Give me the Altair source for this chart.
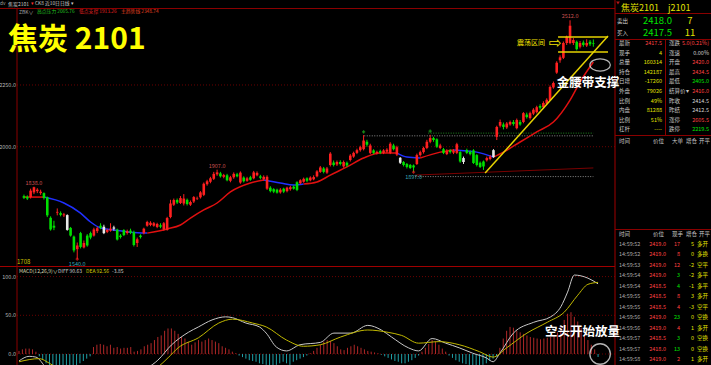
import altair as alt
import pandas as pd

FONT = "Noto Sans CJK SC"

# ---------------- candles (daily OHLC) ----------------
opens = [1800,1797,1796,1815,1820,1812,1812,1795,1712,1680,
         1733,1731,1722,1723,1671,1636,1585,1650,1592,1640,
         1650,1640,1658,1680,1676,1655,1660,1673,1664,1640,
         1662,1650,1660,1654,1610,1640,1650,1680,1683,1680,
         1675,1682,1665,1663,1715,1765,1784,1772,1770,1785,
         1765,1778,1790,1795,1805,1848,1858,1870,1888,1892,
         1878,1884,1862,1876,1888,1855,1875,1862,1876,1872,
         1884,1880,1868,1830,1834,1828,1826,1815,1830,1820,
         1828,1838,1856,1852,1858,1872,1864,1868,1880,1898,
         1912,1895,1926,1936,1928,1938,1920,1935,1946,1960,
         1975,1986,1990,2020,1975,1985,1974,1982,1975,1980,
         1975,2005,1968,1955,1938,1930,1926,1924,1930,1966,
         1978,1995,2020,2035,2030,1995,1990,1970,1985,1976,
         1975,1978,1954,1986,1980,1985,1966,1935,1940,1945,
         1950,1986,2040,2085,2090,2078,2090,2100,2075,2100,
         2100,2130,2116,2134,2140,2165,2160,2175,2189,2240,
         2300,2350,2360,2420,2420,2420,2425,2405,2422,2410,
         2425,2420]
closes = [1793,1790,1822,1836,1826,1818,1792,1722,1665,1672,
          1736,1724,1726,1663,1640,1580,1600,1594,1610,1600,
          1632,1665,1670,1672,1650,1663,1668,1668,1624,1634,
          1642,1658,1652,1602,1625,1634,1668,1695,1692,1690,
          1687,1676,1690,1711,1770,1784,1774,1792,1790,1768,
          1776,1796,1792,1815,1850,1860,1872,1890,1896,1880,
          1885,1864,1876,1890,1880,1895,1860,1872,1866,1896,
          1894,1874,1878,1878,1820,1818,1814,1826,1818,1834,
          1836,1830,1825,1864,1870,1862,1875,1877,1900,1916,
          1898,1912,1972,1926,1938,1930,1938,1924,1964,1975,
          1986,1998,2025,2008,2005,1975,1979,1976,1985,1988,
          2012,1990,1998,1935,1926,1918,1914,1916,1966,1978,
          1995,2020,2035,2027,2000,2005,1975,1982,1978,1984,
          2010,1940,1938,1975,1970,1934,1926,1918,1920,1954,
          1960,1958,2080,2100,2080,2094,2100,2092,2108,2090,
          2136,2120,2136,2150,2160,2158,2177,2190,2242,2258,
          2340,2362,2420,2445,2490,2432,2395,2420,2412,2420,
          2415,2417.5]
highs = [1806,1803,1830,1838,1832,1826,1815,1798,1718,1700,
         1750,1738,1732,1726,1675,1640,1612,1655,1620,1646,
         1656,1672,1676,1690,1684,1668,1690,1680,1668,1646,
         1666,1664,1668,1660,1632,1645,1672,1700,1698,1695,
         1692,1690,1695,1716,1785,1790,1790,1800,1808,1790,
         1782,1800,1798,1820,1855,1866,1878,1898,1907,1898,
         1890,1890,1882,1896,1894,1900,1880,1878,1882,1902,
         1900,1886,1884,1884,1840,1832,1830,1832,1834,1838,
         1842,1844,1860,1868,1875,1876,1880,1884,1905,1922,
         1918,1918,1978,1944,1944,1945,1944,1940,1970,1980,
         1992,2004,2047,2028,2012,1990,1984,1988,1990,1994,
         2018,2012,2004,1958,1942,1934,1930,1928,1972,1984,
         2000,2028,2048,2040,2034,2012,1995,1990,1990,1990,
         2016,1982,1960,1992,1985,1990,1970,1940,1944,1960,
         1966,1990,2085,2110,2098,2100,2106,2108,2114,2108,
         2140,2138,2142,2156,2166,2172,2184,2196,2248,2264,
         2346,2370,2426,2450,2512,2440,2430,2428,2430,2435,
         2432,2434.5]
lows = [1788,1784,1790,1808,1812,1805,1786,1715,1660,1662,
        1722,1718,1715,1660,1636,1572,1545,1588,1588,1595,
        1625,1636,1650,1666,1646,1650,1656,1660,1620,1628,
        1638,1644,1646,1596,1594,1628,1645,1676,1678,1676,
        1670,1670,1660,1660,1710,1760,1768,1768,1762,1762,
        1760,1772,1784,1790,1800,1842,1852,1865,1882,1875,
        1872,1860,1856,1870,1876,1850,1855,1858,1862,1868,
        1880,1868,1862,1825,1815,1812,1810,1810,1812,1815,
        1822,1826,1820,1848,1854,1856,1860,1864,1876,1894,
        1892,1890,1920,1920,1922,1924,1915,1918,1940,1955,
        1970,1980,1985,2000,1970,1970,1968,1970,1970,1975,
        1970,1985,1962,1930,1920,1912,1910,1897,1926,1960,
        1972,1990,2014,2020,1995,1990,1970,1966,1972,1970,
        1970,1935,1930,1970,1965,1930,1920,1914,1906,1940,
        1945,1955,2027,2078,2070,2072,2085,2085,2070,2085,
        2095,2114,2110,2128,2135,2150,2155,2170,2185,2235,
        2295,2340,2355,2412,2415,2412,2390,2398,2405,2404,
        2408,2405]
white_candles = [13, 24, 27, 113, 132, 141]

# moving average line, coloured by direction
ma_idx = [0,6,12,17,20,23,27,32,37,43,47,50,54,58,62,68,72,77,81,84,88,92,97,
          102,107,112,115,119,125,129,136,141,144,149,154,159,164,167,171]
ma_val = [1796,1796,1772,1731,1695,1671,1663,1654,1650,1667,1683,1711,1744,1772,
          1817,1853,1865,1853,1845,1849,1857,1885,1918,1954,1974,1974,1958,1954,
          1978,1987,1978,1958,1978,2019,2060,2100,2189,2262,2343]
ma_breaks = [0, 6, 37, 72, 84, 112, 119, 129, 141, 171]
ma_colors = ["#e01010", "#2030ff", "#e01010", "#2030ff", "#e01010",
             "#2030ff", "#e01010", "#2030ff", "#e01010"]

# MACD(12,26,9)
macd_hist = [4,6,7,7,6,3,
             -3,-7,-12,-16,-18,-20,-22,-24,-22,-20,-18,-16,-12,-9,-6,-3,
             9,12,13,12,10,12,
             8,9,7,8,8,9,3,4,6,
             10,12,14,18,22,24,30,33,33,30,26,22,20,16,
             12,15,18,16,18,20,18,16,14,10,8,6,3,
             1,-2,
             -4,-6,-8,-9,-10,-12,-13,-14,-16,-15,-14,-12,-10,-12,-14,-10,-8,-6,-4,-2,
             1,4,8,12,16,18,17,14,10,
             6,5,8,10,12,10,8,6,4,
             3,2,1,-1,
             -3,-5,-7,-9,-10,-12,-12,-10,-8,-5,-2,
             3,8,13,18,16,12,7,3,
             -2,-5,-8,-10,-12,-13,-14,-15,-16,-15,-14,-12,-9,-6,-3,
             8,20,30,35,34,30,28,26,24,22,21,20,19,
             20,21,22,24,28,36,44,52,54,48,42,34,25,18,12,6,-3.85]
diff_idx = [0,3,5,8,12,16,20,24,28,32,36,38,41,45,50,53,57,61,63,67,71,73,76,79,83,
            89,93,98,103,107,110,115,118,122,126,130,134,138,140,142,146,152,157,160,
            162,164,168,171]
diff_val = [-9,-3,-4,-18,-38,-52,-50,-44,-38,-32,-24,-18,-8,11.6,28,35,44,48,47,40,35,
            27,9,4,12,15,27,27,37,31,22,8,4,20,14,8,1,-5,-10,1,27,41,48,61,80,102,98,90.63]
dea_idx = [0,6,9,12,16,20,24,28,32,36,41,44,47,53,59,63,69,73,79,84,89,95,103,109,113,
           118,124,130,136,140,144,150,156,161,165,168,171]
dea_val = [-10,-6,-12,-20,-32,-40,-43,-42,-38,-32,-17,-5,8,21,40,45,40,35,18,10,12,22,
           31,28,24,14,16,12,3,-4,8,27,41,54,76,90,92.56]

price_ticks = [2000, 2250]
macd_ticks = [0, 50, 100]

# right-hand quote panel
stat_l1 = ["最新", "现手", "总量", "持仓", "日增", "外盘", "比例", "内盘", "比例", "杠杆"]
stat_v1 = ["2417.5", "4", "160314", "142187", "-17260", "79026", "49%", "81288", "51%", "----"]
stat_c1 = ["#ff4040"] + ["#e0e000"] * 9
stat_l2 = ["涨跌", "涨速", "开盘", "最高", "最低", "结算价▾", "昨收", "昨结", "涨停", "跌停"]
stat_v2 = ["5.0(0.21%)", "0.00%", "2420.0", "2434.5", "2405.0", "2416.0", "2414.5",
           "2412.5", "2605.5", "2219.5"]
stat_c2 = ["#ff4040", "#d0d0d0", "#ff4040", "#ff4040", "#00e000", "#ff4040",
           "#d0d0d0", "#d0d0d0", "#ff4040", "#00e000"]

tr_time = ["14:59:52", "14:59:52", "14:59:53", "14:59:54", "14:59:54", "14:59:55",
           "14:59:55", "14:59:56", "14:59:56", "14:59:57", "14:59:57", "14:59:58"]
tr_price = ["2419.0", "2419.0", "2419.0", "2419.0", "2418.5", "2418.5", "2418.5",
            "2419.0", "2419.0", "2418.5", "2418.0", "2419.0"]
tr_vol = ["17", "8", "12", "3", "4", "8", "4", "23", "4", "3", "13", "2"]
tr_vcol = ["#ff4040", "#ff4040", "#ff4040", "#00e000", "#00e000", "#ff4040",
           "#ff4040", "#00e000", "#ff4040", "#00e000", "#00e000", "#ff4040"]
tr_oi = ["5", "0", "-2", "-2", "-1", "3", "-3", "0", "1", "0", "0", "1"]
tr_kind = ["多开", "多换", "空平", "多平", "多平", "多开", "空平", "空换", "多开", "空换", "空换", "多开"]

# ---------------- tables ----------------
N = len(closes)
cols = []
for k in range(N):
    if k in white_candles:
        cols.append("#e8e8e8")
    elif closes[k] >= opens[k]:
        cols.append("#ff2020")
    else:
        cols.append("#00e000")
candles = pd.DataFrame({"i": list(range(N)), "o": opens, "c": closes,
                        "h": highs, "l": lows, "col": cols})

ma_rows = []
for s in range(len(ma_breaks) - 1):
    a, b = ma_breaks[s], ma_breaks[s + 1]
    for k, v in zip(ma_idx, ma_val):
        if a <= k <= b:
            ma_rows.append({"i": k, "v": v, "seg": s, "col": ma_colors[s]})
ma_df = pd.DataFrame(ma_rows)

hist_df = pd.DataFrame({"i": list(range(N)), "v": macd_hist,
                        "col": ["#b02828" if v >= 0 else "#1fa0a8" for v in macd_hist]})
diff_df = pd.DataFrame({"i": diff_idx, "v": diff_val})
dea_df = pd.DataFrame({"i": dea_idx, "v": dea_val})

one = pd.DataFrame({"k": [0]})

# ---------------- scales ----------------
xs = alt.Scale(domain=[-0.59, 176.0], range=[17, 615], zero=False, nice=False)
ys = alt.Scale(domain=[1512.8, 2557.7], range=[267, 9], zero=False, nice=False)
ms = alt.Scale(domain=[-14.2, 112.4], range=[365, 267], zero=False, nice=False)


def PX(f):
    return alt.X(f, type="quantitative", scale=xs, axis=None)


def PY(f, s=ys):
    return alt.Y(f, type="quantitative", scale=s, axis=None)


def label(text, x, y, size, color, align="left", weight="normal", font=FONT):
    return alt.Chart(one).mark_text(
        text=text, font=font, fontSize=size, color=color, align=align,
        baseline="middle", fontWeight=weight
    ).encode(x=alt.value(x), y=alt.value(y))


def hline(x1, x2, y, color="#8a0000", w=1):
    return alt.Chart(one).mark_rule(color=color, strokeWidth=w).encode(
        x=alt.value(x1), x2=alt.value(x2), y=alt.value(y))


def vline(x, y1, y2, color="#8a0000", w=1):
    return alt.Chart(one).mark_rule(color=color, strokeWidth=w).encode(
        x=alt.value(x), y=alt.value(y1), y2=alt.value(y2))


# ---------------- price panel ----------------
grid_p = alt.Chart(pd.DataFrame({"v": price_ticks})).mark_rule(
    color="#6a0000", strokeDash=[1, 2]).encode(
    x=alt.value(17), x2=alt.value(615), y=PY("v"))
ticks_p = alt.Chart(pd.DataFrame({"v": price_ticks})).mark_text(
    align="right", baseline="middle", fontSize=5.5, color="#b4b4b4", font=FONT).encode(
    x=alt.value(16), y=PY("v"), text=alt.Text("v:Q", format=".1f"))

levels = pd.DataFrame({"x1": [102.2, 121.4, 117.5], "x2": [171, 171, 171],
                       "p": [2044, 2055, 1879],
                       "col": ["#8c8c8c", "#1f8a1f", "#8c8c8c"]})
lev = alt.Chart(levels).mark_rule(strokeDash=[1, 1.5], strokeWidth=1).encode(
    x=PX("x1"), x2="x2:Q", y=PY("p"), color=alt.Color("col:N", scale=None))
slope = alt.Chart(pd.DataFrame({"x1": [117.5], "x2": [171], "p1": [1885], "p2": [1914]})).mark_rule(
    color="#7a0000", strokeWidth=1).encode(x=PX("x1"), x2="x2:Q", y=PY("p1"), y2="p2:Q")

wicks = alt.Chart(candles).mark_rule(strokeWidth=1).encode(
    x=PX("i"), y=PY("l"), y2="h:Q", color=alt.Color("col:N", scale=None))
bodies = alt.Chart(candles).mark_bar(size=2.6).encode(
    x=PX("i"), y=PY("o"), y2="c:Q", color=alt.Color("col:N", scale=None))
ma_line = alt.Chart(ma_df).mark_line(strokeWidth=1.5, interpolate="monotone").encode(
    x=PX("i"), y=PY("v"), detail="seg:N", order="i:Q", color=alt.Color("col:N", scale=None))

hi_lab = alt.Chart(pd.DataFrame({"i": [3, 58, 164], "p": [1838, 1907, 2512],
                                 "t": ["1838.0", "1907.0", "2512.0"]})).mark_text(
    fontSize=5.5, color="#c85050", font=FONT, baseline="bottom", dy=-1).encode(
    x=PX("i"), y=PY("p"), text="t:N")
lo_lab = alt.Chart(pd.DataFrame({"i": [16, 117], "p": [1545, 1897],
                                 "t": ["1540.0", "1897.0"]})).mark_text(
    fontSize=5.5, color="#3aa8b8", font=FONT, baseline="top", dy=3).encode(
    x=PX("i"), y=PY("p"), text="t:N")
lo_mark = alt.Chart(pd.DataFrame({"i": [16, 117], "p": [1545, 1897]})).mark_point(
    shape="cross", size=10, filled=True, color="#ff2020").encode(x=PX("i"), y=PY("p"))
hi_mark = alt.Chart(pd.DataFrame({"i": [102, 122], "p": [2060, 2063]})).mark_point(
    shape="cross", size=10, filled=True, color="#20c020").encode(x=PX("i"), y=PY("p"))

trend = alt.Chart(pd.DataFrame({"x1": [138.5], "x2": [175.4], "p1": [1893], "p2": [2448]})).mark_rule(
    color="#e6d200", strokeWidth=1.5).encode(x=PX("x1"), x2="x2:Q", y=PY("p1"), y2="p2:Q")
band = alt.Chart(pd.DataFrame({"x1": [160.4, 160.4], "x2": [175.4, 175.4], "p": [2444, 2384]})).mark_rule(
    color="#e6d200", strokeWidth=1.5).encode(x=PX("x1"), x2="x2:Q", y=PY("p"))

price_layer = alt.layer(grid_p, ticks_p, lev, slope, ma_line, wicks, bodies,
                        hi_lab, lo_lab, lo_mark, hi_mark, trend, band)

# ---------------- MACD panel ----------------
grid_m = alt.Chart(pd.DataFrame({"v": macd_ticks})).mark_rule(
    color="#6a0000", strokeDash=[1, 2]).encode(
    x=alt.value(17), x2=alt.value(615), y=PY("v", ms))
ticks_m = alt.Chart(pd.DataFrame({"v": macd_ticks})).mark_text(
    align="right", baseline="middle", fontSize=5.5, color="#b4b4b4", font=FONT).encode(
    x=alt.value(16), y=PY("v", ms), text=alt.Text("v:Q", format=".1f"))
hist = alt.Chart(hist_df).mark_rule(strokeWidth=1).encode(
    x=PX("i"), y=alt.Y("zero:Q", scale=ms, axis=None), y2="v:Q",
    color=alt.Color("col:N", scale=None)).transform_calculate(zero="0")
diff_line = alt.Chart(diff_df).mark_line(color="#c8c8c8", strokeWidth=1, interpolate="monotone").encode(
    x=PX("i"), y=PY("v", ms))
dea_line = alt.Chart(dea_df).mark_line(color="#c0b800", strokeWidth=1, interpolate="monotone").encode(
    x=PX("i"), y=PY("v", ms))
macd_circle = alt.Chart(pd.DataFrame({"i": [171.6], "v": [0]})).mark_point(
    shape="circle", size=420, filled=False, color="#ffffff", strokeWidth=1.3).encode(
    x=PX("i"), y=PY("v", ms))
macd_layer = alt.layer(grid_m, ticks_m, hist, diff_line, dea_line, macd_circle)

# ---------------- right panel tables ----------------
stats = pd.DataFrame({"r": list(range(10)), "l1": stat_l1, "v1": stat_v1, "c1": stat_c1,
                      "l2": stat_l2, "v2": stat_v2, "c2": stat_c2})
rs = alt.Scale(domain=[0, 9], range=[43, 129.4], zero=False, nice=False)


def stat_col(field, x, align, colf=None, color="#c8c8c8"):
    enc = dict(x=alt.value(x), y=alt.Y("r:Q", scale=rs, axis=None), text=f"{field}:N")
    if colf:
        enc["color"] = alt.Color(f"{colf}:N", scale=None)
    return alt.Chart(stats).mark_text(font=FONT, fontSize=5.5, align=align,
                                      baseline="middle", color=color).encode(**enc)


stats_layer = alt.layer(stat_col("l1", 619, "left"), stat_col("v1", 662, "right", "c1"),
                        stat_col("l2", 669, "left"), stat_col("v2", 709, "right", "c2"))

trades = pd.DataFrame({"r": list(range(12)), "t": tr_time, "p": tr_price, "vol": tr_vol,
                       "vc": tr_vcol, "oi": tr_oi, "kp": tr_kind})
rt = alt.Scale(domain=[0, 11], range=[244, 359], zero=False, nice=False)


def tr_col(field, x, align, color=None, colf=None):
    enc = dict(x=alt.value(x), y=alt.Y("r:Q", scale=rt, axis=None), text=f"{field}:N")
    if colf:
        enc["color"] = alt.Color(f"{colf}:N", scale=None)
    kw = dict(font=FONT, fontSize=5.5, align=align, baseline="middle")
    if color:
        kw["color"] = color
    return alt.Chart(trades).mark_text(**kw).encode(**enc)


trades_layer = alt.layer(tr_col("t", 619, "left", "#a8a8a8"),
                         tr_col("p", 666, "right", "#ff4040"),
                         tr_col("vol", 680, "right", colf="vc"),
                         tr_col("oi", 694, "right", "#e0e000"),
                         tr_col("kp", 697, "left", "#e0e000"))

# ---------------- frame, headers, static texts ----------------
frame = alt.layer(
    hline(0, 615, 8.5), hline(0, 615, 266.5, "#a00000"),
    vline(17, 8.5, 365), vline(615, 0, 365, "#a00000"),
    hline(615, 711, 13.5), hline(615, 711, 39.5), hline(615, 711, 135.5),
    hline(615, 711, 229.5), vline(665.5, 39.5, 135.5),
    # top menu strip
    label("dv", 0, 4, 4.8, "#a0a0a0"), label("焦炭2101", 8, 4, 5, "#c8c8c8"),
    label("▾", 31, 4, 4.8, "#ff3030"), label("CK8", 35, 4, 4.8, "#c8c8c8"),
    label("近10日", 45, 4, 4.8, "#c8c8c8"), label("日线 ▾", 60, 4, 4.8, "#c8c8c8"),
    # indicator line
    label("ZBK∨", 19, 11.5, 5, "#a0a0a0"),
    label("高点压力 2065.76", 37, 11.5, 4.8, "#20c020"),
    label("低点支撑 1913.26", 79, 11.5, 4.8, "#e02020"),
    label("主趋势线 2348.74", 121, 11.5, 4.8, "#e04020"),
    label("1708", 17, 262, 6, "#d0c000"),
    # MACD header
    label("MACD(12,26,9)∨", 19, 270.5, 5, "#d8d8b0"),
    label("DIFF 90.63", 58, 270.5, 5, "#d0d0d0"),
    label("DEA 92.56", 86, 270.5, 5, "#d8d000"),
    label("-3.85", 112, 270.5, 5, "#d0d0d0"),
    # big title
    label("焦炭 2101", 8, 40, 30, "#ffff00", weight="bold"),
    # right panel header
    alt.Chart(one).mark_point(shape="triangle-down", size=14, filled=True, color="#ff2020").encode(
        x=alt.value(618), y=alt.value(3)),
    label("焦炭2101", 621, 7.5, 9, "#e0e000"), label("j2101", 668, 7.5, 9, "#e0e000"),
    label("卖出", 617, 20.5, 5.5, "#d0d0d0"), label("2418.0", 672, 20.5, 9.5, "#00e000", "right"),
    label("7", 690, 20.5, 9.5, "#e0e000", "center"),
    label("买入", 617, 33, 5.5, "#d0d0d0"), label("2417.5", 672, 33, 9.5, "#00e000", "right"),
    label("11", 690, 33, 9.5, "#e0e000", "center"),
    label("时间", 619, 141, 5.5, "#c8c8c8"), label("价位", 664, 141, 5.5, "#c8c8c8", "right"),
    label("大单", 683, 141, 5.5, "#c8c8c8", "right"), label("增仓", 697, 141, 5.5, "#c8c8c8", "right"),
    label("开平", 710, 141, 5.5, "#c8c8c8", "right"),
    label("时间", 619, 234, 5.5, "#c8c8c8"), label("价位", 664, 234, 5.5, "#c8c8c8", "right"),
    label("现手", 683, 234, 5.5, "#c8c8c8", "right"), label("增仓", 697, 234, 5.5, "#c8c8c8", "right"),
    label("开平", 710, 234, 5.5, "#c8c8c8", "right"),
)

# ---------------- annotations on top ----------------
ann_text = pd.DataFrame({"i": [168.0], "p": [2258], "t": ["金腰带支撑"]})
ann1 = alt.Chart(ann_text).mark_text(font=FONT, fontSize=12.5, fontWeight="bold",
                                     color="#ffffff", baseline="middle").encode(
    x=PX("i"), y=PY("p"), text="t:N")
zone = alt.Chart(pd.DataFrame({"i": [151.2], "p": [2420], "t": ["震荡区间"]})).mark_text(
    font=FONT, fontSize=7, color="#f0e000", baseline="middle").encode(
    x=PX("i"), y=PY("p"), text="t:N")
arrow = alt.Chart(pd.DataFrame({"i": [158.4], "p": [2420], "t": ["⇨"]})).mark_text(
    font="DejaVu Sans", fontSize=15, color="#f0e000", baseline="middle").encode(
    x=PX("i"), y=PY("p"), text="t:N")
ellipse = alt.Chart(pd.DataFrame({"i": [171.6], "p": [2331]})).mark_point(
    shape="M -1 0 A 1 0.6 0 1 1 1 0 A 1 0.6 0 1 1 -1 0 Z", size=420, filled=False,
    color="#ffffff", strokeWidth=1.2).encode(x=PX("i"), y=PY("p"))
ann_price = alt.layer(ann1, zone, arrow, ellipse)

ann_macd = alt.Chart(pd.DataFrame({"i": [166.4], "v": [28.4], "t": ["空头开始放量"]})).mark_text(
    font=FONT, fontSize=12.5, fontWeight="bold", color="#ffffff", baseline="middle").encode(
    x=PX("i"), y=PY("v", ms), text="t:N")

chart = alt.layer(
    price_layer, macd_layer, stats_layer, trades_layer, frame, ann_price, ann_macd
).resolve_scale(x="independent", y="independent").properties(
    width=711, height=365, background="#000000", padding=0,
    autosize=alt.AutoSizeParams(type="none")
).configure_view(strokeWidth=0)

chart.save("out.html", embed_options={"renderer": "svg", "actions": False})
